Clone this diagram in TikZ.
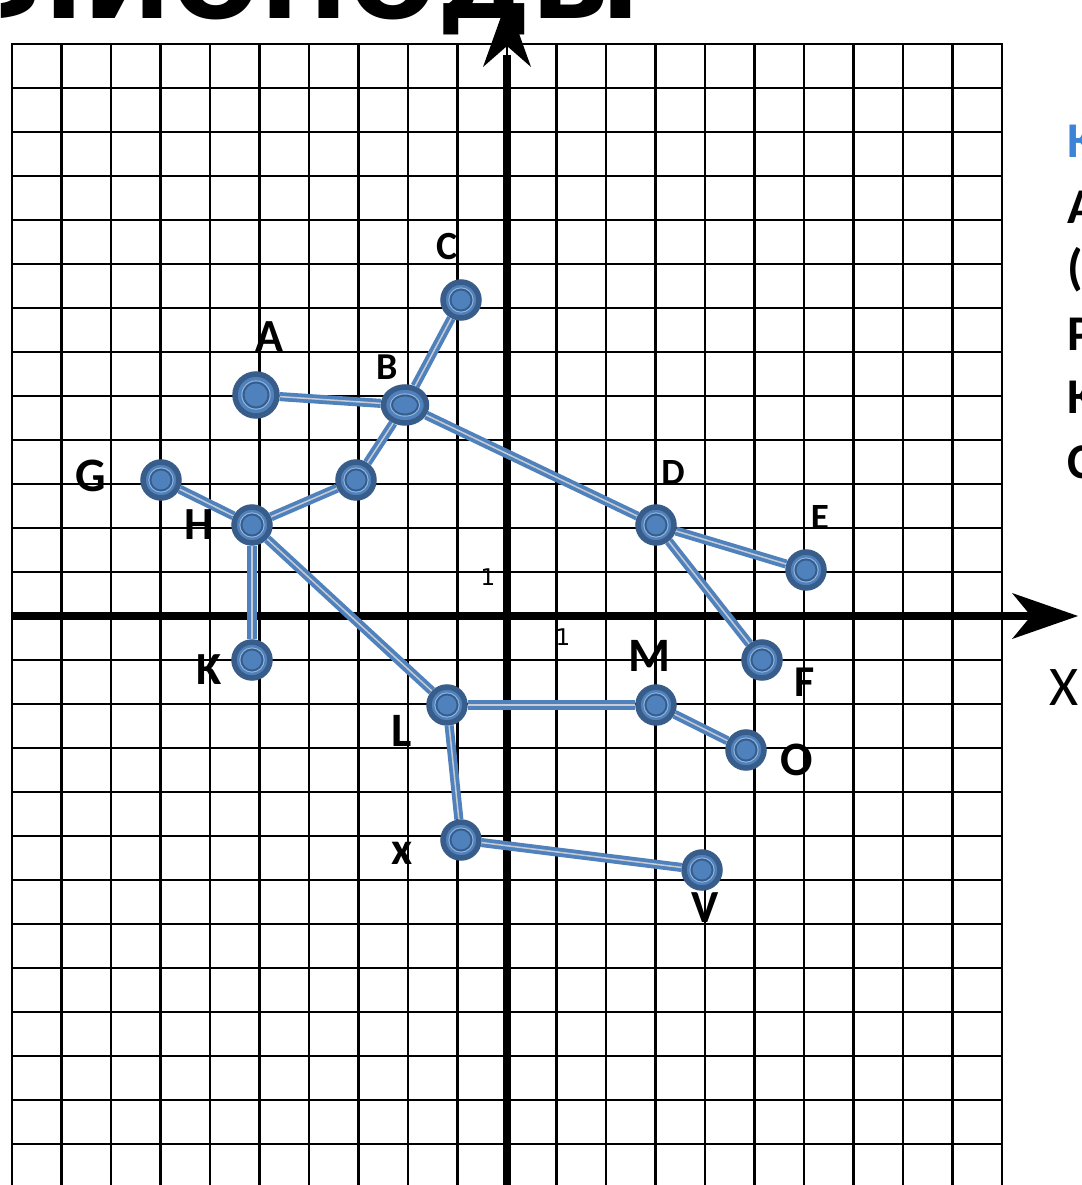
\documentclass[tikz,border=0pt]{standalone}
\usepackage{fontspec}
\setmainfont{Carlito}
\newfontfamily\titlefont{DejaVu Sans}
\newfontfamily\numfont{DejaVu Sans}
\usetikzlibrary{shapes.geometric}
\definecolor{nodeblue}{HTML}{4F81BD}
\definecolor{nodedark}{HTML}{385D8A}
\definecolor{ringdark}{HTML}{365C8C}
\definecolor{edgeblue}{HTML}{4F81BD}
\definecolor{edgemid}{HTML}{C8CCD2}
\definecolor{textblue}{HTML}{3C84D6}
\tikzset{
  gridline/.style={draw=black, line width=2.6pt},
  axisline/.style={draw=black, line width=7.5pt},
  ptnode/.style={circle, fill=nodeblue, draw=nodedark, line width=5.5pt, minimum size=36pt, inner sep=0pt,
    path picture={\draw[ringdark, line width=1.8pt] (path picture bounding box.center) circle (10.5pt);
                  \draw[nodeblue!60!white, line width=0.9pt] (path picture bounding box.center) circle (12.2pt);}},
  bigpt/.style={ptnode, minimum size=42pt,
    path picture={\draw[ringdark, line width=1.8pt] (path picture bounding box.center) circle (12.5pt);
                  \draw[nodeblue!60!white, line width=0.9pt] (path picture bounding box.center) circle (14.2pt);}},
  ellpt/.style={ellipse, fill=nodeblue, draw=nodedark, line width=5.5pt, minimum width=43pt, minimum height=36pt, inner sep=0pt,
    path picture={\draw[ringdark, line width=1.8pt] (path picture bounding box.center) ellipse (13pt and 9.5pt);
                  \draw[nodeblue!60!white, line width=0.9pt] (path picture bounding box.center) ellipse (14.7pt and 11.2pt);}},
  edgeshadow/.style={draw=black!18, line width=9pt},
  edge/.style={draw=edgeblue, line width=3.8pt, double=edgemid, double distance=1.5pt},
  lab/.style={inner sep=0pt, font=\bfseries\fontsize{#1}{#1}\selectfont},
  lab/.default=46,
  sidetext/.style={inner sep=0pt, anchor=base west, font=\bfseries\fontsize{50}{50}\selectfont},
  unitlab/.style={inner sep=0pt, font=\numfont\fontsize{23}{23}\selectfont}
}
\begin{document}
\begin{tikzpicture}[x=1pt,y=-1pt]
\useasboundingbox (0,0) rectangle (1081,1185);
\clip (0,0) rectangle (1081,1185);
\fill[white] (0,0) rectangle (1081,1185);
% title (cut at top)
\node[inner sep=0pt, anchor=base west, font=\titlefont\bfseries\fontsize{105}{105}\selectfont] (title) at (-4,19) {ЛИОНОДЫ};
% grid
\foreach \i in {0,...,20} \draw[gridline] ({12+49.5*\i},45) -- ({12+49.5*\i},1190);
\foreach \j in {-12,...,13} \draw[gridline] (11,{616-44*\j}) -- (1003,{616-44*\j});
% axes
\draw[axisline] (507,1190) -- (507,55);
\fill[black] (507,0) -- (531,67) -- (507,46) -- (483,67) -- cycle;
\draw[axisline] (12,616) -- (1032,616);
\fill[black] (1078,616) -- (1012,593) -- (1031,616) -- (1012,639) -- cycle;
% unit labels
\node[unitlab] (u1y) at (488,577) {1};
\node[unitlab] (u1x) at (563,637) {1};
\node[inner sep=0pt, anchor=base west, font=\fontsize{56}{56}\selectfont] (xlab) at (1049,705) {X};
% side text (cut at right)
\node[sidetext, text=textblue] (s1) at (1067,158) {К};
\node[sidetext] (s2) at (1067,223) {А};
\node[sidetext] (s3) at (1067,284) {(};
\node[sidetext] (s4) at (1067,350) {Р};
\node[sidetext] (s5) at (1067,413) {К};
\node[sidetext] (s6) at (1067,478) {С};
% points
\node[bigpt] (A) at (256,395) {};
\node[ellpt] (B) at (405,405) {};
\node[ptnode] (C) at (461,300) {};
\node[ptnode] (N) at (356,480) {};
\node[ptnode] (G) at (161,480) {};
\node[ptnode] (H) at (252,525) {};
\node[ptnode] (K) at (252,660) {};
\node[ptnode] (D) at (656,525) {};
\node[ptnode] (E) at (806,570) {};
\node[ptnode] (F) at (762,660) {};
\node[ptnode] (L) at (447,705) {};
\node[ptnode] (M) at (656,705) {};
\node[ptnode] (O) at (746,750) {};
\node[ptnode] (X) at (461,840) {};
\node[ptnode] (V) at (702,870) {};
% edges
\foreach \p/\q in {A/B,B/C,B/N,N/H,G/H,H/K,H/L,B/D,D/E,D/F,L/M,M/O,L/X,X/V}
  \draw[edge] (\p) -- (\q);
% labels
\node[lab=46] (lA) at (269,337) {A};
\node[lab=38] (lB) at (387,367) {B};
\node[lab=40] (lC) at (447,247) {C};
\node[lab=37] (lD) at (673,472) {D};
\node[lab=37] (lE) at (820,517) {E};
\node[lab=48] (lG) at (91,476) {G};
\node[lab=46] (lH) at (199,525) {H};
\node[lab=46] (lK) at (209,670) {K};
\node[lab=48] (lM) at (649,656) {M};
\node[lab=44] (lF) at (805,682) {F};
\node[lab=48] (lL) at (402,731) {L};
\node[lab=48] (lO) at (797,760) {O};
\node[lab=46] (lx) at (402,853) {x};
\node[lab=46] (lV) at (705,908) {V};
\end{tikzpicture}
\end{document}
